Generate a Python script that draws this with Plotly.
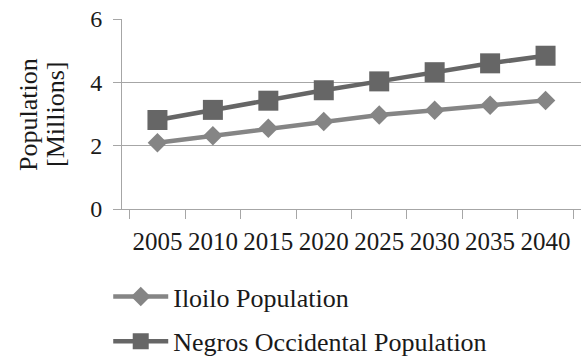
import plotly.graph_objects as go

years = ["2005", "2010", "2015", "2020", "2025", "2030", "2035", "2040"]
iloilo = [2.09, 2.31, 2.55, 2.76, 2.97, 3.12, 3.28, 3.43]
negros = [2.81, 3.13, 3.42, 3.75, 4.03, 4.32, 4.60, 4.84]
y_ticks = [0, 2, 4, 6]
y_title_lines = ["Population", "[Millions]"]

FONT = "Liberation Serif, Times New Roman, serif"
AXIS_GRAY = "#a6a6a6"
TEXT = "#1a1a1a"

fig = go.Figure()
fig.add_trace(go.Scatter(
    x=years, y=iloilo, name="Iloilo Population", mode="lines+markers",
    line=dict(color="#858585", width=4.5),
    marker=dict(symbol="diamond", size=15, color="#858585"),
    legendgroup="a",
))
fig.add_trace(go.Scatter(
    x=years, y=negros, name="Negros Occidental Population", mode="lines+markers",
    line=dict(color="#666666", width=4.5),
    marker=dict(symbol="square", size=20, color="#666666"),
    legendgroup="b",
))

# y-axis title drawn as two rotated lines with tighter line spacing
for line_text, xpos in zip(y_title_lines, [-0.205, -0.146]):
    fig.add_annotation(
        text=line_text, textangle=-90, showarrow=False,
        xref="paper", yref="paper", x=xpos, y=0.5,
        xanchor="center", yanchor="middle",
        font=dict(family=FONT, size=26, color=TEXT),
    )

fig.update_layout(
    width=585, height=356,
    margin=dict(l=122, r=4, t=19, b=147, autoexpand=False),
    paper_bgcolor="white", plot_bgcolor="white",
    font=dict(family=FONT, size=25, color=TEXT),
    showlegend=True,
    legend=dict(
        x=-0.03, y=-0.337, xanchor="left", yanchor="top",
        font=dict(family=FONT, size=26, color=TEXT),
        tracegroupgap=8, itemwidth=55, bgcolor="rgba(0,0,0,0)",
    ),
    xaxis=dict(
        type="category", tickson="boundaries", tickangle=0,
        ticks="outside", ticklen=9, tickcolor=AXIS_GRAY, tickwidth=1,
        showline=True, linecolor=AXIS_GRAY, linewidth=1,
        showgrid=False, zeroline=False,
        ticklabelstandoff=10,
        tickfont=dict(family=FONT, size=25),
        automargin=False,
    ),
    yaxis=dict(
        range=[0, 6], tickvals=y_ticks,
        ticks="outside", ticklen=8, tickcolor=AXIS_GRAY,
        showline=True, linecolor=AXIS_GRAY, linewidth=1,
        showgrid=True, gridcolor=AXIS_GRAY, gridwidth=1,
        zeroline=False,
        ticklabelstandoff=6,
        tickfont=dict(family=FONT, size=24),
        automargin=False,
    ),
)

fig.write_html("out.html")
